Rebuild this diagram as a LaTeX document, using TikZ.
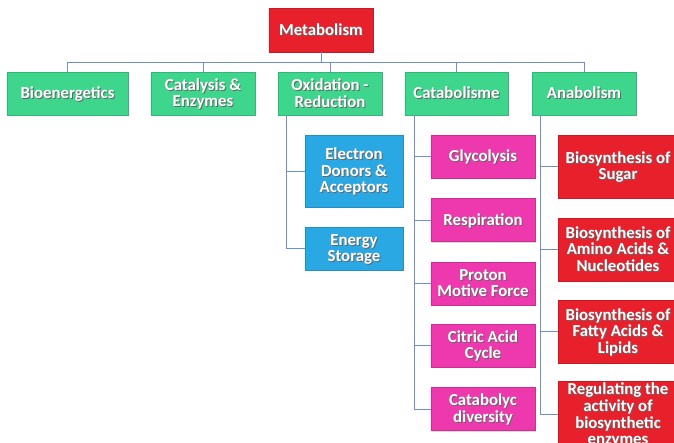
\documentclass[tikz,border=0pt]{standalone}
\usepackage{fontspec}
\setmainfont{Carlito}
\usetikzlibrary{shadows}
\definecolor{grn}{HTML}{3DD68C}
\definecolor{blu}{HTML}{2AA8E4}
\definecolor{pnk}{HTML}{EE38AE}
\definecolor{rd}{HTML}{E8202C}
\definecolor{lnk}{HTML}{6F8ED2}
\newcommand\shtxt[1]{\raisebox{-2.2pt}[\height][\depth]{\rlap{\hspace*{1pt}\raisebox{-1pt}{\color{black!60}\begin{tabular}{@{}c@{}}#1\end{tabular}}}\begin{tabular}{@{}c@{}}#1\end{tabular}}}
\tikzset{
  boxbase/.style={rectangle, inner sep=0pt, align=center, text=white,
    font=\fontsize{16.8}{16.2}\selectfont\bfseries, line width=0.6pt,
    drop shadow={shadow xshift=1.3pt, shadow yshift=-1.3pt, opacity=0.3}},
  gbox/.style={boxbase, fill=grn, draw=grn!85!black, minimum height=43pt},
  bbox/.style={boxbase, fill=blu, draw=blu!85!black, minimum width=98pt},
  pbox/.style={boxbase, fill=pnk, draw=pnk!85!black, minimum width=104pt, minimum height=43pt},
  rbox/.style={boxbase, fill=rd, draw=rd!85!black, minimum width=120pt, minimum height=63pt},
  link/.style={draw=lnk, line width=0.9pt}
}
\begin{document}
\begin{tikzpicture}[x=1pt,y=-1pt]
\path[use as bounding box] (0,0) rectangle (674,443);
\clip (0,0) rectangle (674,443);
% root
\node[boxbase, fill=rd, draw=rd!85!black, minimum width=104pt, minimum height=44pt] (met) at (321,30) {\shtxt{Metabolism}};
% level 1
\node[gbox, minimum width=121pt] (bio) at (67.5,93.5) {\shtxt{Bioenergetics}};
\node[gbox, minimum width=104pt] (cat) at (203,93.5) {\shtxt{Catalysis \&\\Enzymes}};
\node[gbox, minimum width=104pt] (oxi) at (330,93.5) {\shtxt{Oxidation -\\Reduction}};
\node[gbox, minimum width=103pt] (cbl) at (456.5,93.5) {\shtxt{Catabolisme}};
\node[gbox, minimum width=104pt] (ana) at (584,93.5) {\shtxt{Anabolism}};
% blue children
\node[bbox, minimum height=72pt] (ele) at (354,171) {\shtxt{Electron\\Donors \&\\Acceptors}};
\node[bbox, minimum height=43pt] (ene) at (354,248.5) {\shtxt{Energy\\Storage}};
% pink children
\node[pbox] (gly) at (483,156.5) {\shtxt{Glycolysis}};
\node[pbox] (res) at (483,220) {\shtxt{Respiration}};
\node[pbox] (pro) at (483,283.5) {\shtxt{Proton\\Motive Force}};
\node[pbox] (cit) at (483,345.5) {\shtxt{Citric Acid\\Cycle}};
\node[pbox] (cad) at (483,409) {\shtxt{Catabolyc\\diversity}};
% red children
\node[rbox] (sug) at (618,166.5) {\shtxt{Biosynthesis of\\Sugar}};
\node[rbox] (ami) at (618,249.5) {\shtxt{Biosynthesis of\\Amino Acids \&\\Nucleotides}};
\node[rbox] (fat) at (618,331.5) {\shtxt{Biosynthesis of\\Fatty Acids \&\\Lipids}};
\node[rbox] (reg) at (618,414.5) {\shtxt{Regulating the\\activity of\\biosynthetic\\enzymes}};
% connectors level 0 -> 1
\coordinate (bus) at (0,62);
\draw[link] (met.south) -- (met |- bus);
\draw[link] (bio |- bus) -- (ana |- bus);
\foreach \n in {bio,cat,oxi,cbl,ana} {\draw[link] (\n.north) -- (\n |- bus);}
% children
\coordinate (oxs) at ([xshift=9pt]oxi.south west);
\coordinate (cbs) at ([xshift=10pt]cbl.south west);
\coordinate (ans) at ([xshift=9pt]ana.south west);
\foreach \n in {ele,ene} {\draw[link] (oxs) |- (\n.west);}
\foreach \n in {gly,res,pro,cit,cad} {\draw[link] (cbs) |- (\n.west);}
\foreach \n in {sug,ami,fat,reg} {\draw[link] (ans) |- (\n.west);}
\end{tikzpicture}
\end{document}
